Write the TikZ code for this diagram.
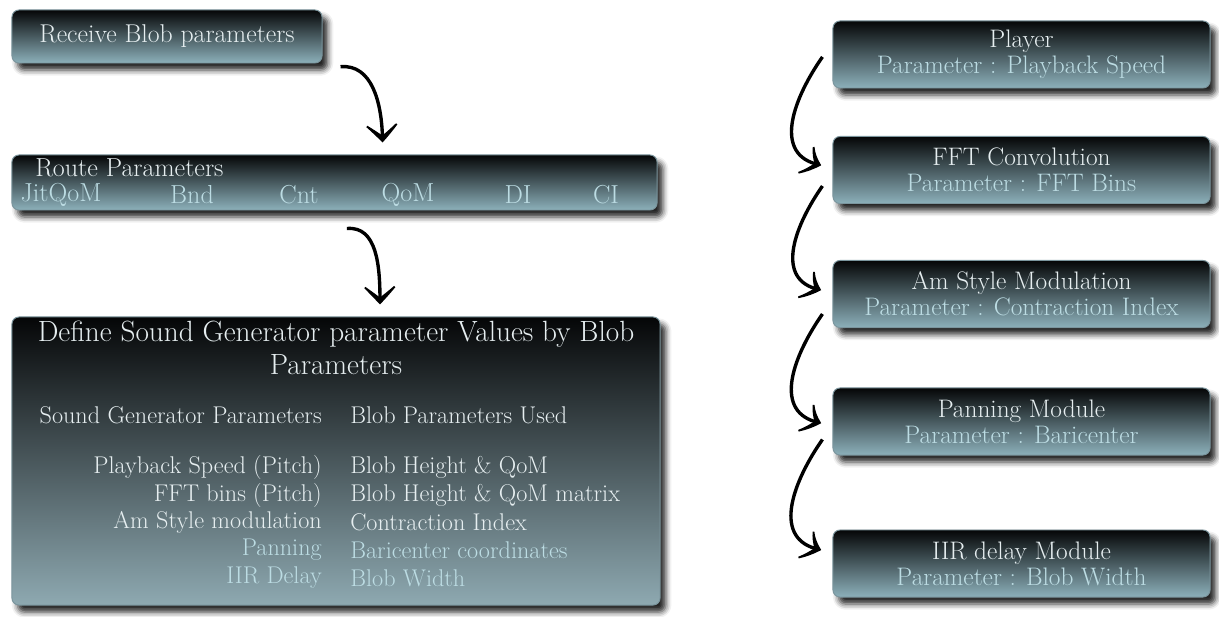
\documentclass[tikz,border=0pt]{standalone}
\usepackage{tikz}
\usetikzlibrary{arrows.meta, bending, calc, shadows.blur}

\definecolor{boxtop}{HTML}{050607}
\definecolor{boxmid}{HTML}{263A41}
\definecolor{boxbottom}{HTML}{8CB0BA}
\definecolor{bigbottom}{HTML}{8EA9B1}
\definecolor{boxedge}{HTML}{7B959D}
\definecolor{titletxt}{HTML}{E6EEF0}
\definecolor{subtxt}{HTML}{BCDCE3}

\begin{document}
\begin{tikzpicture}[
        x=0.025cm, y=-0.025cm,
        blobbox/.style={rectangle, rounded corners=5pt, draw=boxedge, line width=0.7pt,
            top color=boxtop, middle color=boxmid, bottom color=boxbottom, text=titletxt,
            blur shadow={shadow xshift=4pt, shadow yshift=-5pt, shadow blur radius=4pt, shadow opacity=85},
            inner sep=0pt, align=center},
        bigbox/.style={blobbox, top color=boxtop, middle color=black!90!bigbottom, bottom color=bigbottom},
        modbox/.style={blobbox, minimum width=9.425cm, minimum height=1.675cm,
            font=\fontsize{18}{18.6}\selectfont},
        headtxt/.style={text=titletxt, inner sep=0pt},
        valtxt/.style={text=subtxt, inner sep=0pt, font=\fontsize{18.5}{20}\selectfont},
        tabtxt/.style={text=titletxt, inner sep=0pt, font=\fontsize{17.2}{19}\selectfont},
        bendarrow/.style={line width=2.4pt, -{Stealth[length=17pt, width=32pt, inset=12pt, bend]}}
    ]
    \useasboundingbox (0,0) rectangle (1219,617);

    % Left column
    \node[blobbox, minimum width=7.75cm, minimum height=1.325cm,
          font=\fontsize{18.3}{20}\selectfont] (recv) at (167,36.5) {Receive Blob parameters};
    \node[blobbox, minimum width=16.125cm, minimum height=1.375cm] (route) at (334.5,182.5) {};
    \node[bigbox, minimum width=16.2cm, minimum height=7.2cm] (define) at (336,461) {};

    % Route parameters
    \node[headtxt, anchor=west, font=\fontsize{18.5}{20}\selectfont] (routetitle) at (35,168) {Route Parameters};
    \node[valtxt] (jit) at (61,195) {JitQoM};
    \node[valtxt] (bnd) at (192,195) {Bnd};
    \node[valtxt] (cnt) at (299,195) {Cnt};
    \node[valtxt] (qom) at (408,195) {QoM};
    \node[valtxt] (di) at (518,195) {DI};
    \node[valtxt] (ci) at (606,195) {CI};

    % Sound generator table
    \node[headtxt, font=\fontsize{20.8}{23}\selectfont, align=center] (deftitle) at (336,348)
        {Define Sound Generator parameter Values by Blob\\Parameters};
    \node[tabtxt, anchor=east] (sghead) at (322,415) {Sound Generator Parameters};
    \node[tabtxt, anchor=west] (bphead) at (350,415) {Blob Parameters Used};
    \node[tabtxt, anchor=east] (sg1) at (322,467) {Playback Speed (Pitch)};
    \node[tabtxt, anchor=west] (bp1) at (350,467) {Blob Height \& QoM};
    \node[tabtxt, anchor=east] (sg2) at (322,495) {FFT bins (Pitch)};
    \node[tabtxt, anchor=west] (bp2) at (350,495) {Blob Height \& QoM matrix};
    \node[tabtxt, anchor=east] (sg3) at (322,522) {Am Style modulation};
    \node[tabtxt, anchor=west] (bp3) at (350,522) {Contraction Index};
    \node[tabtxt, anchor=east, text=subtxt] (sg4) at (322,550) {Panning};
    \node[tabtxt, anchor=west, text=subtxt] (bp4) at (350,550) {Baricenter coordinates};
    \node[tabtxt, anchor=east, text=subtxt] (sg5) at (322,578) {IIR Delay};
    \node[tabtxt, anchor=west, text=subtxt] (bp5) at (350,578) {Blob Width};

    % Right column
    \node[modbox] (player) at (1021.5,54.5) {Player\\\textcolor{subtxt}{Parameter : Playback Speed}};
    \node[modbox] (fft) at (1021.5,170) {FFT Convolution\\\textcolor{subtxt}{Parameter : FFT Bins}};
    \node[modbox] (amstyle) at (1021.5,294) {Am Style Modulation\\\textcolor{subtxt}{Parameter : Contraction Index}};
    \node[modbox] (panning) at (1021.5,421.5) {Panning Module\\\textcolor{subtxt}{Parameter : Baricenter}};
    \node[modbox] (iir) at (1021.5,563.5) {IIR delay Module\\\textcolor{subtxt}{Parameter : Blob Width}};

    % Arrows
    \draw[bendarrow] ([xshift=0.45cm, yshift=-0.08cm]recv.south east) to[out=5, in=90] ([xshift=1.2cm, yshift=0.3cm]route.north);
    \draw[bendarrow] ([xshift=0.31cm, yshift=-0.45cm]route.south) to[out=5, in=90] ([xshift=1.1cm, yshift=0.3cm]define.north);

    \draw[bendarrow] ([xshift=-0.25cm, yshift=-0.06cm]player.west) to[out=235, in=170, looseness=1.2] ([xshift=-0.28cm, yshift=0.12cm]fft.west);
    \draw[bendarrow] ([xshift=-0.25cm, yshift=-0.4cm]fft.west) to[out=235, in=170, looseness=1.2] ([xshift=-0.28cm, yshift=0.1cm]amstyle.west);
    \draw[bendarrow] ([xshift=-0.25cm, yshift=-0.5cm]amstyle.west) to[out=235, in=170, looseness=1.2] ([xshift=-0.28cm, yshift=-0.04cm]panning.west);
    \draw[bendarrow] ([xshift=-0.25cm, yshift=-0.45cm]panning.west) to[out=235, in=170, looseness=1.2] ([xshift=-0.28cm, yshift=0.34cm]iir.west);
\end{tikzpicture}
\end{document}
